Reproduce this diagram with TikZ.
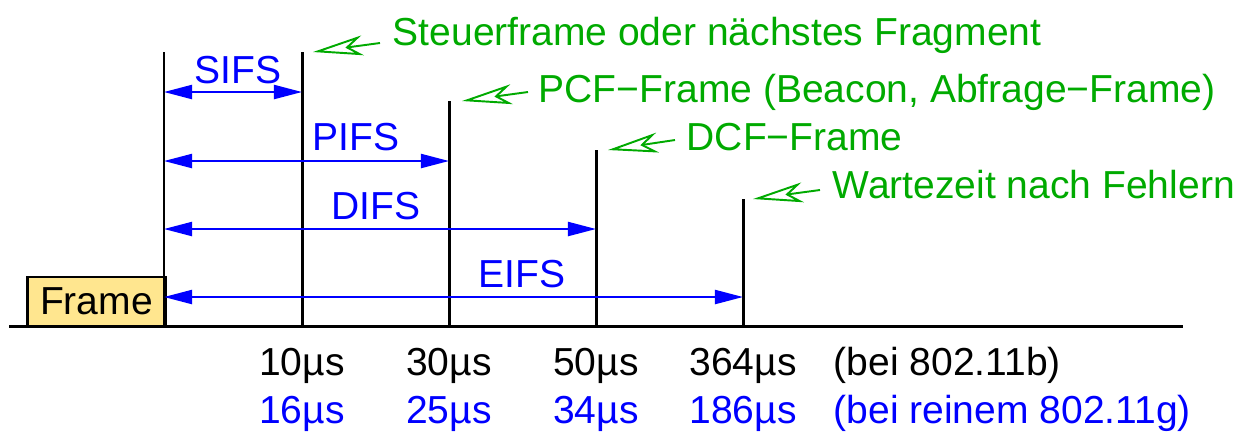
\documentclass[tikz,border=0pt]{standalone}
\usepackage{fontspec}
\setmainfont{Liberation Sans}
\usetikzlibrary{arrows.meta, positioning}
\definecolor{ifsBlue}{HTML}{0000FF}
\definecolor{noteGreen}{HTML}{00AA00}
\definecolor{frameYellow}{HTML}{FFE68F}

\begin{document}
\begin{tikzpicture}[x=0.01cm, y=-0.01cm,
    every node/.style={font=\fontsize{11.1}{13}\selectfont, inner sep=0pt},
    tick/.style={line width=0.85pt, black},
    ifs/.style={{Triangle[length=2.8mm, width=1.4mm]}-{Triangle[length=2.8mm, width=1.4mm]},
                line width=0.6pt, ifsBlue},
    ifslabel/.style={anchor=base, text=ifsBlue},
    note/.style={-{Stealth[open, length=5mm, width=2mm, inset=1.4mm]},
                 line width=0.55pt, noteGreen},
    notetext/.style={anchor=base west, text=noteGreen},
    framebox/.style={draw, line width=0.85pt, fill=frameYellow,
                     minimum width=1.37cm, minimum height=0.49cm},
  ]
    \useasboundingbox (0,0) rectangle (1246,432);

    % ─── Frame on the medium ───
    \node[framebox] (frame) at (96.5,301.5) {Frame};

    % ─── Time axis and slot boundaries ───
    \coordinate (axisL) at (9,326);
    \coordinate (axisR) at (1183,326);
    \draw[tick] (axisL) -- (axisR);
    \foreach \n/\x/\t in {0/164/52, 1/302/52, 2/449/101, 3/596/150, 4/743/199}{
      \coordinate (top\n) at (\x,\t);
      \coordinate (bot\n) at (\x,326);
      \draw[tick] (top\n) -- (bot\n);
    }

    % ─── Inter frame spaces ───
    \foreach \n/\x/\y/\lab/\lx/\ly in {1/302/92/SIFS/238/83, 2/449/161/PIFS/356/150,
                                     3/596/229/DIFS/376/219, 4/743/297/EIFS/522/287}{
      \coordinate (ifsL\n) at (164,\y);
      \coordinate (ifsR\n) at (\x,\y);
      \draw[ifs] (ifsL\n) -- (ifsR\n);
      \node[ifslabel] (lab\n) at (\lx,\ly) {\lab};
    }

    % ─── What may follow ───
    \node[notetext] (steuer) at (392,45) {Steuerframe oder nächstes Fragment};
    \node[notetext] (pcf) at (538,102) {PCF−Frame (Beacon, Abfrage−Frame)};
    \node[notetext] (dcf) at (686,150) {DCF−Frame};
    \node[notetext] (warte) at (832,198) {Wartezeit nach Fehlern};
    \coordinate (steuerT) at (380,43);
    \coordinate (pcfT) at (528,92);
    \coordinate (dcfT) at (675,140);
    \coordinate (warteT) at (820,190);
    \draw[note] (steuerT) -- ([xshift=0.11cm]top1);
    \draw[note] (pcfT) -- ([xshift=0.13cm]top2);
    \draw[note] (dcfT) -- ([xshift=0.12cm]top3);
    \draw[note] (warteT) -- ([xshift=0.1cm]top4);

    % ─── Durations ───
    \foreach \n/\x/\tb/\tg in {1/302/10/16, 2/449/30/25, 3/596/50/34, 4/743/364/186}{
      \node[anchor=base] (tb\n) at (\x,375) {{\tb}µs};
      \node[anchor=base, text=ifsBlue] (tg\n) at (\x,423) {{\tg}µs};
    }
    \node[anchor=base west] (std11b) at (833,375) {(bei 802.11b)};
    \node[anchor=base west, text=ifsBlue] (std11g) at (833,423) {(bei reinem 802.11g)};
  \end{tikzpicture}
\end{document}
